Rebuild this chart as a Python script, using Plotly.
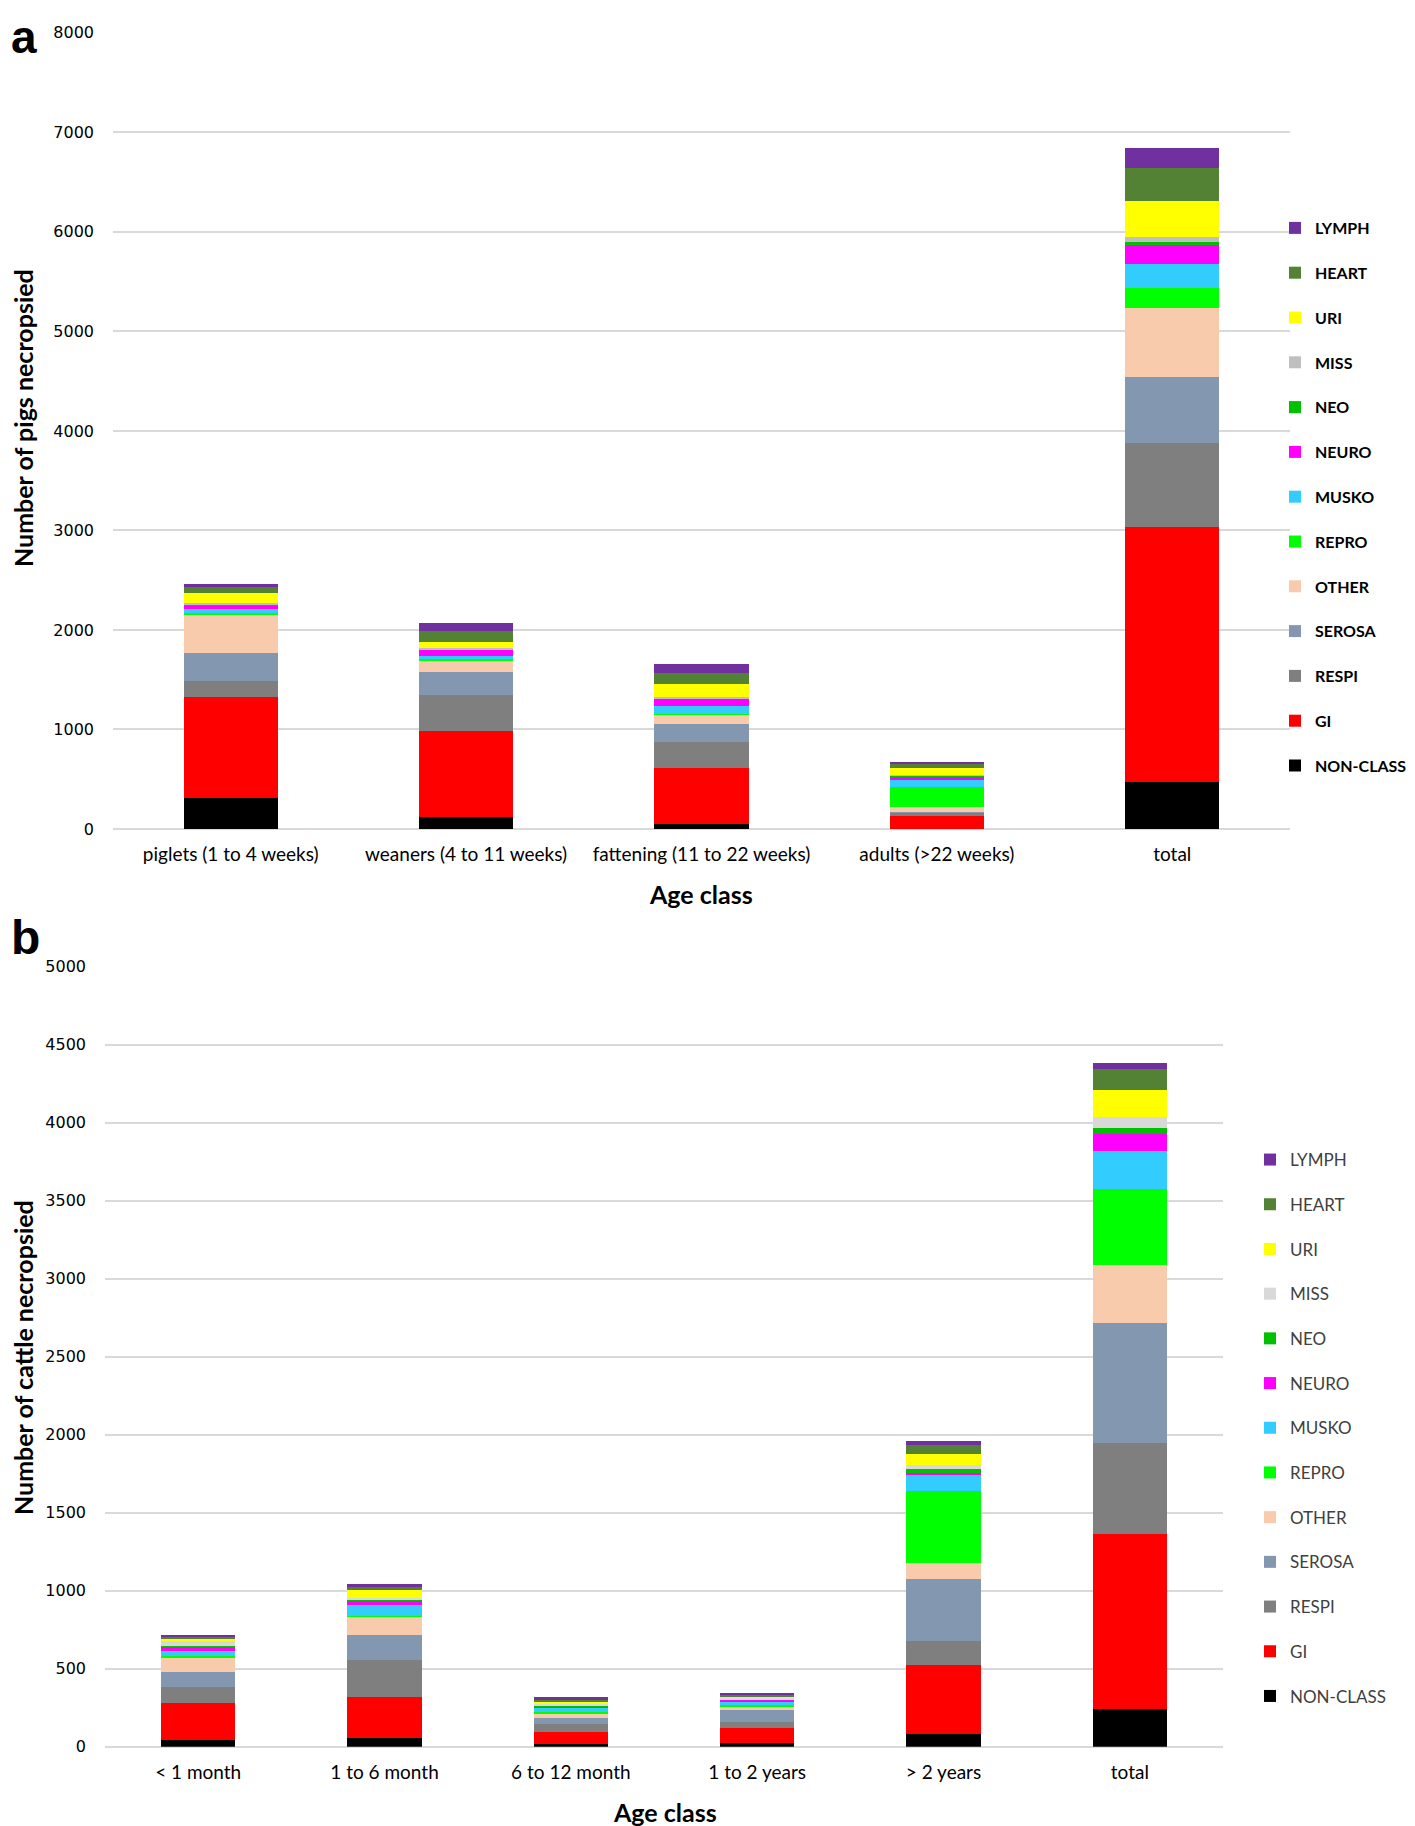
import plotly.graph_objects as go

W, H = 1415, 1826
OFF = 8  # browser body margin

series = ["NON-CLASS", "GI", "RESPI", "SEROSA", "OTHER", "REPRO", "MUSKO",
          "NEURO", "NEO", "MISS", "URI", "HEART", "LYMPH"]

colors_a = {"NON-CLASS": "#000000", "GI": "#FF0000", "RESPI": "#7F7F7F",
            "SEROSA": "#8497B0", "OTHER": "#F8CBAD", "REPRO": "#00FF00",
            "MUSKO": "#33CCFF", "NEURO": "#FF00FF", "NEO": "#00C000",
            "MISS": "#BFBFBF", "URI": "#FFFF00", "HEART": "#548235",
            "LYMPH": "#7030A0"}
colors_b = dict(colors_a, MISS="#D9D9D9")

# ---- panel a: pigs ----
categories_a = ["piglets (1 to 4 weeks)", "weaners (4 to 11 weeks)",
                "fattening (11 to 22 weeks)", "adults (>22 weeks)", "total"]
pigs_nonclass = [315, 117, 50, 5, 476]
pigs_gi = [1007, 867, 559, 121, 2558]
pigs_respi = [164, 365, 268, 43, 848]
pigs_serosa = [278, 225, 174, 5, 664]
pigs_other = [395, 127, 104, 45, 687]
pigs_repro = [8, 5, 5, 201, 206]
pigs_musko = [47, 35, 80, 74, 238]
pigs_neuro = [33, 64, 74, 37, 202]
pigs_neo = [5, 4, 5, 7, 18]
pigs_miss = [22, 6, 5, 3, 54]
pigs_uri = [101, 63, 131, 67, 359]
pigs_heart = [53, 111, 117, 53, 332]
pigs_lymph = [34, 80, 90, 14, 202]

# ---- panel b: cattle ----
categories_b = ["< 1 month", "1 to 6 month", "6 to 12 month", "1 to 2 years",
                "> 2 years", "total"]
cattle_nonclass = [41, 58, 15, 24, 79, 242]
cattle_gi = [242, 259, 77, 96, 445, 1124]
cattle_respi = [98, 242, 54, 38, 152, 579]
cattle_serosa = [96, 158, 38, 75, 400, 770]
cattle_other = [97, 118, 34, 22, 103, 372]
cattle_repro = [10, 4, 5, 15, 462, 490]
cattle_musko = [30, 71, 23, 23, 98, 239]
cattle_neuro = [28, 30, 15, 9, 17, 109]
cattle_neo = [3, 3, 5, 4, 26, 44]
cattle_miss = [34, 10, 5, 4, 21, 66]
cattle_uri = [19, 49, 17, 15, 75, 178]
cattle_heart = [11, 30, 17, 11, 58, 133]
cattle_lymph = [8, 11, 11, 9, 25, 40]

pigs = [pigs_nonclass, pigs_gi, pigs_respi, pigs_serosa, pigs_other, pigs_repro,
        pigs_musko, pigs_neuro, pigs_neo, pigs_miss, pigs_uri, pigs_heart, pigs_lymph]
cattle = [cattle_nonclass, cattle_gi, cattle_respi, cattle_serosa, cattle_other,
          cattle_repro, cattle_musko, cattle_neuro, cattle_neo, cattle_miss,
          cattle_uri, cattle_heart, cattle_lymph]

fig = go.Figure()
for i, (name, vals) in enumerate(zip(series, pigs)):
    fig.add_trace(go.Bar(x=categories_a, y=vals, name=name, marker_color=colors_a[name],
                         marker_line_width=0, xaxis="x", yaxis="y",
                         legend="legend", legendgroup="a" + name,
                         legendrank=100 - i))
for i, (name, vals) in enumerate(zip(series, cattle)):
    fig.add_trace(go.Bar(x=categories_b, y=vals, name=name, marker_color=colors_b[name],
                         marker_line_width=0, xaxis="x2", yaxis="y2",
                         legend="legend2", legendgroup="b" + name,
                         legendrank=100 - i))

def px_x(p):
    return (p - OFF) / W

def px_y(p):
    return 1 - (p - OFF) / H

grid = "#D9D9D9"
tickfont = dict(family="DejaVu Sans", size=16, color="#000000")
catfont = dict(family="Lato", size=19, color="#000000")

fig.update_layout(
    width=W, height=H,
    margin=dict(l=0, r=0, t=0, b=0, autoexpand=False),
    paper_bgcolor="white", plot_bgcolor="white",
    barmode="stack", bargap=0.6,
    showlegend=True,
    xaxis=dict(domain=[px_x(113), px_x(1290)], anchor="y", tickfont=catfont,
               showgrid=False, showline=False, ticks="", ticklabelstandoff=12,
               automargin=False),
    yaxis=dict(domain=[px_y(829), px_y(32.6)], anchor="x", range=[0, 8002],
               tickvals=[0, 1000, 2000, 3000, 4000, 5000, 6000, 7000, 8000],
               showgrid=True, gridcolor=grid, gridwidth=2,
               zeroline=True, zerolinecolor=grid, zerolinewidth=2,
               tickfont=tickfont, ticks="", ticklabelstandoff=18, automargin=False),
    xaxis2=dict(domain=[px_x(105), px_x(1223)], anchor="y2", tickfont=catfont,
                showgrid=False, showline=False, ticks="", ticklabelstandoff=12,
                automargin=False),
    yaxis2=dict(domain=[px_y(1746.7), px_y(966.6)], anchor="x2", range=[0, 5001],
                tickvals=[0, 500, 1000, 1500, 2000, 2500, 3000, 3500, 4000, 4500, 5000],
                showgrid=True, gridcolor=grid, gridwidth=2,
                zeroline=True, zerolinecolor=grid, zerolinewidth=2,
                tickfont=tickfont, ticks="", ticklabelstandoff=18, automargin=False),
    legend=dict(x=px_x(1275), y=px_y(211), xanchor="left", yanchor="top",
                traceorder="grouped", tracegroupgap=21,
                font=dict(family="Lato", size=16, color="#000000", weight="bold"),
                bgcolor="rgba(0,0,0,0)"),
    legend2=dict(x=px_x(1250), y=px_y(1142), xanchor="left", yanchor="top",
                 traceorder="grouped", tracegroupgap=19.6,
                 font=dict(family="Lato", size=17, color="#404040"),
                 bgcolor="rgba(0,0,0,0)"),
)

ann_common = dict(xref="paper", yref="paper", showarrow=False)
bold25 = dict(family="Lato", size=25, color="#000000", weight="bold")
fig.add_annotation(text="Number of pigs necropsied", x=px_x(23), y=px_y(418),
                   textangle=-90, xanchor="center", yanchor="middle", font=bold25,
                   **ann_common)
fig.add_annotation(text="Number of cattle necropsied", x=px_x(23), y=px_y(1358),
                   textangle=-90, xanchor="center", yanchor="middle", font=bold25,
                   **ann_common)
fig.add_annotation(text="Age class", x=px_x(701), y=px_y(894), xanchor="center",
                   yanchor="middle", font=bold25, **ann_common)
fig.add_annotation(text="Age class", x=px_x(665), y=px_y(1812), xanchor="center",
                   yanchor="middle", font=bold25, **ann_common)
fig.add_annotation(text="a", x=px_x(9), y=px_y(9), xanchor="left", yanchor="top",
                   font=dict(family="Liberation Sans", size=46, color="#000000", weight="bold"),
                   **ann_common)
fig.add_annotation(text="b", x=px_x(9), y=px_y(909), xanchor="left", yanchor="top",
                   font=dict(family="Liberation Sans", size=48, color="#000000", weight="bold"),
                   **ann_common)

fig.write_html("out.html")
